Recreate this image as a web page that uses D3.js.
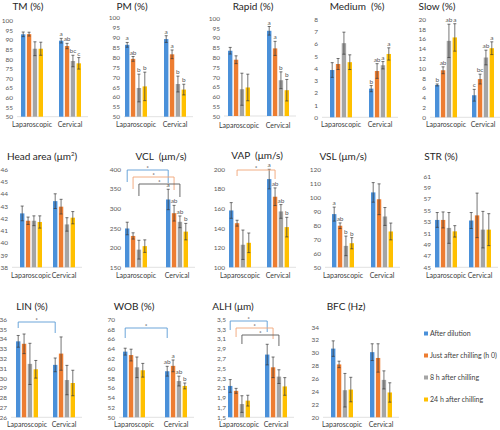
<!DOCTYPE html>
<html><head><meta charset="utf-8">
<script src="https://cdn.jsdelivr.net/npm/d3@7"></script>
<style>
body{margin:0;background:#fff}
svg{display:block;font-family:Lato,'Open Sans',sans-serif}
text{white-space:pre}
</style>
</head><body>
<svg id="c" width="500" height="430"></svg>
<script>
// ---------- DATA ----------
const groups = ["Laparoscopic", "Cervical"];
const seriesNames = ["After dilution", "Just after chilling (h 0)", "8 h after chilling", "24 h after chilling"];

const tmMean = [[92.9, 93.0, 85.4, 85.4], [89.6, 86.8, 79.0, 77.8]];
const tmErr = [[1.2, 1.0, 3.6, 3.4], [1.2, 1.4, 3.0, 3.0]];
const tmLetters = [[], ["a", "ab", "bc", "c"]];
const tmTicks = [50, 55, 60, 65, 70, 75, 80, 85, 90, 95, 100];

const pmMean = [[86.3, 79.2, 64.5, 65.3], [89.2, 81.5, 66.5, 63.7]];
const pmErr = [[1.2, 1.2, 7.0, 7.2], [1.7, 2.2, 4.0, 2.7]];
const pmLetters = [["a", "ab", "b", "b"], ["a", "a", "b", "b"]];
const pmTicks = [50, 55, 60, 65, 70, 75, 80, 85, 90, 95, 100];

const rapidMean = [[83.4, 78.8, 63.7, 64.6], [93.6, 84.6, 68.3, 63.2]];
const rapidErr = [[1.7, 2.0, 8.2, 6.8], [2.2, 3.6, 4.3, 5.5]];
const rapidLetters = [[], ["a", "a", "b", "b"]];
const rapidTicks = [50, 55, 60, 65, 70, 75, 80, 85, 90, 95, 100];

const mediumMean = [[3.86, 4.35, 6.05, 4.5], [2.34, 3.78, 4.25, 5.17]];
const mediumErr = [[0.6, 0.45, 0.9, 0.6], [0.25, 0.6, 0.3, 0.5]];
const mediumLetters = [[], ["b", "ab", "a", "a"]];
const mediumTicks = [0, 1, 2, 3, 4, 5, 6, 7, 8];

const slowMean = [[6.6, 9.6, 15.6, 16.3], [4.5, 7.8, 12.2, 14.1]];
const slowErr = [[0.2, 0.7, 3.4, 2.8], [1.2, 1.0, 1.5, 1.3]];
const slowLetters = [["b", "ab", "ab", "a"], ["c", "bc", "ab", "a"]];
const slowTicks = [0, 2, 4, 6, 8, 10, 12, 14, 16, 18, 20];

const headMean = [[42.4, 41.8, 41.8, 41.7], [43.4, 42.95, 41.5, 42.05]];
const headErr = [[0.6, 0.3, 0.4, 0.5], [0.6, 0.6, 0.55, 0.5]];
const headLetters = [[], []];
const headTicks = [38, 39, 40, 41, 42, 43, 44, 45, 46];

const vclMean = [[249, 230, 195, 204], [323, 288, 266, 241]];
const vclErr = [[16, 8, 24, 16], [26, 20, 15, 21]];
const vclLetters = [[], ["a", "ab", "ab", "b"]];
const vclTicks = [150, 200, 250, 300, 350, 400];
const vclBrackets = [0, 1, 2];

const vapMean = [[158, 145, 123, 125], [190, 172, 157, 141]];
const vapErr = [[8, 3, 15, 10], [10, 9, 7, 10]];
const vapLetters = [[], ["a", "ab", "ab", "b"]];
const vapTicks = [100, 120, 140, 160, 180, 200];
const vapBrackets = [1];

const vslMean = [[88, 79.7, 65.3, 67.2], [103.5, 98.6, 86.3, 75.6]];
const vslErr = [[5, 2, 7, 4], [7, 11, 6.4, 6]];
const vslLetters = [["a", "ab", "b", "b"], []];
const vslTicks = [50, 60, 70, 80, 90, 100, 110, 120];

const strMean = [[53.3, 53.3, 51.9, 51.3], [53.2, 54.1, 51.6, 51.6]];
const strErr = [[1.3, 1.4, 2.7, 1.0], [1.4, 3.9, 3.2, 2.8]];
const strLetters = [[], []];
const strTicks = [45, 47, 49, 51, 53, 55, 57, 59, 61];

const linMean = [[33.75, 33.5, 31.45, 30.9], [31.35, 32.5, 29.8, 29.5]];
const linErr = [[0.6, 1.0, 2.1, 0.9], [0.7, 1.7, 1.5, 1.3]];
const linLetters = [[], []];
const linTicks = [26, 27, 28, 29, 30, 31, 32, 33, 34, 35, 36];
const linBrackets = [0];

const wobMean = [[63.4, 62.7, 60.2, 59.6], [59.4, 60.5, 57.4, 56.4]];
const wobErr = [[0.7, 1.2, 2.1, 1.4], [1.0, 1.2, 1.0, 0.6]];
const wobLetters = [[], ["ab", "a", "ab", "b"]];
const wobTicks = [50, 52, 54, 56, 58, 60, 62, 64, 66, 68, 70];
const wobBrackets = [0];

const alhMean = [[2.14, 2.04, 1.77, 1.84], [2.78, 2.52, 2.33, 2.13]];
const alhErr = [[0.13, 0.05, 0.17, 0.11], [0.21, 0.21, 0.14, 0.18]];
const alhLetters = [[], []];
const alhTicks = [1.5, 1.7, 1.9, 2.1, 2.3, 2.5, 2.7, 2.9, 3.1, 3.3, 3.5];
const alhBrackets = [0, 1, 2];

const bfcMean = [[30.65, 28.2, 24.2, 24.3], [30.1, 29.2, 25.8, 23.85]];
const bfcErr = [[1.2, 0.5, 2.6, 1.9], [1.3, 2.2, 1.4, 1.5]];
const bfcLetters = [[], []];
const bfcTicks = [20, 22, 24, 26, 28, 30, 32, 34];

// ---------- STYLE / LAYOUT ----------
const colors = ["#4A90D9", "#ED7D31", "#A5A5A5", "#FFC000"];
const bracketColors = ["#5B9BD5", "#F0A577", "#5A5A5A"];

const panels = [
  {title: "TM (%)", mean: tmMean, err: tmErr, letters: tmLetters, ticks: tmTicks, brackets: [],
   L: {axR: 13, lap: 21, cerv: 59, yTop: 20.7, yBot: 116.7, tx: 28, ty: 10, cy: 127.5}},
  {title: "PM (%)", mean: pmMean, err: pmErr, letters: pmLetters, ticks: pmTicks, brackets: [],
   L: {axR: 120, lap: 125, cerv: 164, yTop: 17.7, yBot: 116.7, tx: 132, ty: 10, cy: 127.5}},
  {title: "Rapid (%)", mean: rapidMean, err: rapidErr, letters: rapidLetters, ticks: rapidTicks, brackets: [],
   L: {axR: 220, lap: 228, cerv: 267, yTop: 18.3, yBot: 116, tx: 253, ty: 10, cy: 127.5}},
  {title: "Medium  (%)", mean: mediumMean, err: mediumErr, letters: mediumLetters, ticks: mediumTicks, brackets: [],
   L: {axR: 318, lap: 330, cerv: 369, yTop: 19.3, yBot: 117.3, tx: 357, ty: 10, cy: 127.5}},
  {title: "Slow (%)", mean: slowMean, err: slowErr, letters: slowLetters, ticks: slowTicks, brackets: [],
   L: {axR: 426, lap: 435, cerv: 472, yTop: 19.3, yBot: 117.3, tx: 437, ty: 10, cy: 127.5}},

  {title: "Head area (μm²)", mean: headMean, err: headErr, letters: headLetters, ticks: headTicks, brackets: [],
   L: {axR: 8, lap: 20, cerv: 53, yTop: 169.3, yBot: 267.3, tx: 42, ty: 160, cy: 278.5}},
  {title: "VCL  (μm/s)", mean: vclMean, err: vclErr, letters: vclLetters, ticks: vclTicks, brackets: vclBrackets,
   L: {axR: 121, lap: 125, cerv: 166, yTop: 169.3, yBot: 267.3, tx: 161, ty: 160, cy: 278.5, brY: 170, brL: 12, brR: 13}},
  {title: "VAP  (μm/s)", mean: vapMean, err: vapErr, letters: vapLetters, ticks: vapTicks, brackets: vapBrackets,
   L: {axR: 225, lap: 229, cerv: 267, yTop: 169.3, yBot: 267.3, tx: 257, ty: 159, cy: 278.5, brY: 170, brL: 6, brR: 9}},
  {title: "VSL (μm/s)", mean: vslMean, err: vslErr, letters: vslLetters, ticks: vslTicks, brackets: [],
   L: {axR: 321, lap: 332, cerv: 371, yTop: 169.3, yBot: 267.3, tx: 343, ty: 160, cy: 278.5}},
  {title: "STR (%)", mean: strMean, err: strErr, letters: strLetters, ticks: strTicks, brackets: [],
   L: {axR: 431, lap: 435, cerv: 469, yTop: 176, yBot: 267.3, tx: 441, ty: 160, cy: 278.5}},

  {title: "LIN (%)", mean: linMean, err: linErr, letters: linLetters, ticks: linTicks, brackets: linBrackets,
   L: {axR: 7, lap: 16, cerv: 53, yTop: 319.3, yBot: 417.3, tx: 32, ty: 310, cy: 427.5, brY: 322, brL: 6, brR: 11}},
  {title: "WOB (%)", mean: wobMean, err: wobErr, letters: wobLetters, ticks: wobTicks, brackets: wobBrackets,
   L: {axR: 115, lap: 123, cerv: 165, yTop: 319.3, yBot: 417.3, tx: 134, ty: 310, cy: 427.5, brY: 328, brL: 10, brR: 10}},
  {title: "ALH (μm)", mean: alhMean, err: alhErr, letters: alhLetters, ticks: alhTicks, brackets: alhBrackets,
   L: {axR: 226, lap: 228, cerv: 265, yTop: 319.3, yBot: 417.3, tx: 233, ty: 310, cy: 427.5, brY: 321, brL: 9, brR: 11}},
  {title: "BFC (Hz)", mean: bfcMean, err: bfcErr, letters: bfcLetters, ticks: bfcTicks, brackets: [],
   L: {axR: 319, lap: 331, cerv: 370, yTop: 327, yBot: 417.3, tx: 346, ty: 310, cy: 427.5}}
];

const svg = d3.select("#c");
const GW = 22, PO = 0.2;

panels.forEach(p => {
  const L = p.L;
  const step = L.cerv - L.lap;
  const x0 = d3.scaleBand().domain(groups)
    .range([L.lap - PO * step, L.cerv + GW + PO * step])
    .paddingInner(1 - GW / step).paddingOuter(PO);
  const x1 = d3.scaleBand().domain(d3.range(seriesNames.length))
    .range([0, x0.bandwidth()]).paddingInner(0.25);
  const y = d3.scaleLinear().domain([p.ticks[0], p.ticks[p.ticks.length - 1]]).range([L.yBot, L.yTop]);
  const g = svg.append("g");

  // title
  const t = g.append("text").attr("x", L.tx).attr("y", L.ty).attr("text-anchor", "middle")
    .attr("font-size", 10).attr("fill", "#262626");
  if (p.title.includes("²")) {
    t.append("tspan").text(p.title.replace("²)", ""));
    t.append("tspan").text("2").attr("font-size", 6).attr("dy", -4);
    t.append("tspan").text(")").attr("dy", 4);
  } else t.text(p.title);

  // y axis
  const isComma = p.ticks.some(v => v % 1 !== 0);
  const ya = g.append("g").attr("transform", `translate(${L.axR},0)`)
    .call(d3.axisLeft(y).tickValues(p.ticks).tickSize(0).tickPadding(0)
      .tickFormat(v => isComma ? d3.format(".1f")(v).replace(".", ",") : d3.format("d")(v)));
  ya.select(".domain").remove();
  ya.selectAll("text").attr("font-size", 6.5).attr("fill", "#595959").attr("font-family", "Lato,'Open Sans',sans-serif");

  // baseline
  g.append("line").attr("x1", L.axR + 4).attr("x2", L.cerv + GW + 7)
    .attr("y1", L.yBot).attr("y2", L.yBot).attr("stroke", "#d9d9d9").attr("stroke-width", 0.8);

  // category axis
  const xa = g.append("g").attr("transform", `translate(0,${L.yBot})`)
    .call(d3.axisBottom(x0).tickSize(0));
  xa.select(".domain").remove();
  xa.selectAll("text").attr("y", L.cy - L.yBot).attr("dy", 0)
    .attr("font-size", 7).attr("fill", "#404040").attr("font-family", "Lato,'Open Sans',sans-serif");

  // bars & error bars
  groups.forEach((grp, gi) => {
    p.mean[gi].forEach((m, si) => {
      const bx = x0(grp) + x1(si), bw = x1.bandwidth(), cx = bx + bw / 2;
      g.append("rect").attr("x", bx).attr("y", y(m)).attr("width", bw)
        .attr("height", L.yBot - y(m)).attr("fill", colors[si]);
      const e = p.err[gi][si];
      const eg = g.append("g").attr("stroke", "#3a3a3a").attr("stroke-width", 0.7);
      eg.append("line").attr("x1", cx).attr("x2", cx).attr("y1", y(m - e)).attr("y2", y(m + e));
      eg.append("line").attr("x1", cx - 1.5).attr("x2", cx + 1.5).attr("y1", y(m + e)).attr("y2", y(m + e));
      eg.append("line").attr("x1", cx - 1.5).attr("x2", cx + 1.5).attr("y1", y(m - e)).attr("y2", y(m - e));
      const lt = p.letters[gi][si];
      if (lt) g.append("text").attr("x", cx).attr("y", y(m + e) - 2).attr("text-anchor", "middle")
        .attr("font-size", 6.5).attr("fill", "#595959").text(lt);
    });
  });

  // significance brackets
  p.brackets.forEach((s, i) => {
    const bw = x1.bandwidth();
    const xl = x0(groups[0]) + x1(s) + bw / 2;
    const xr = x0(groups[1]) + x1(s) + bw / 2;
    const yb = L.brY + i * 7;
    g.append("path").attr("d", `M${xl},${yb + L.brL}V${yb}H${xr}V${yb + L.brR}`)
      .attr("fill", "none").attr("stroke", bracketColors[s]).attr("stroke-width", 0.9);
    g.append("text").attr("x", (xl + xr) / 2).attr("y", yb - 0.5).attr("text-anchor", "middle")
      .attr("font-size", 6.5).attr("fill", "#444").text("*");
  });
});

// legend
const lg = svg.append("g").attr("transform", "translate(424,0)");
const legY = [336, 358, 380, 402];
seriesNames.forEach((n, i) => {
  lg.append("rect").attr("x", 0).attr("y", legY[i] - 4.5).attr("width", 4).attr("height", 4).attr("fill", colors[i]);
  lg.append("text").attr("x", 6).attr("y", legY[i]).attr("font-size", 7).attr("fill", "#404040").text(n);
});
</script>
</body></html>
